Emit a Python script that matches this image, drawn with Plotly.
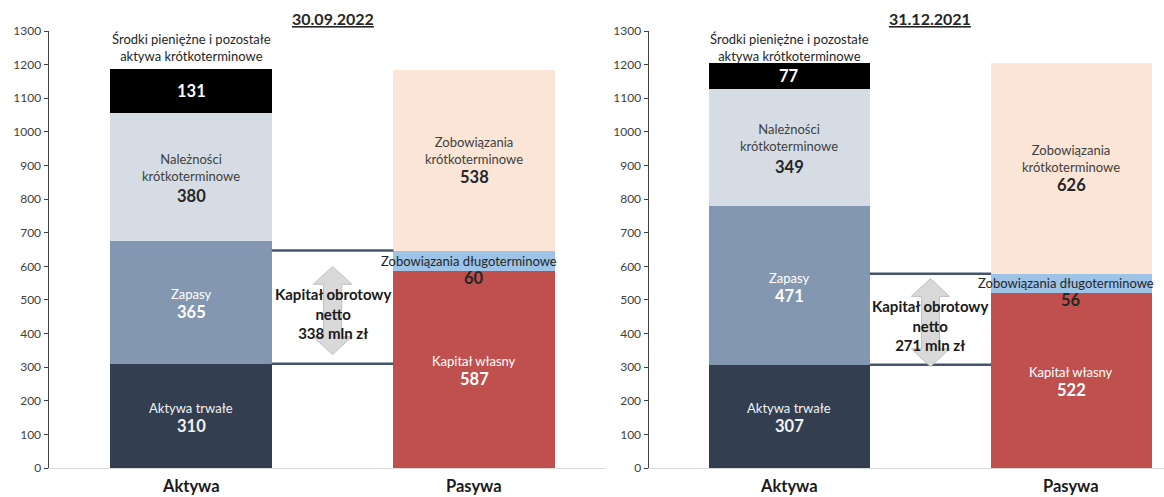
import plotly.graph_objects as go

# ---------------- data ----------------
dates = ["30.09.2022", "31.12.2021"]
categories = ["Aktywa", "Pasywa"]

asset_names = ["Aktywa trwałe", "Zapasy", "Należności<br>krótkoterminowe",
               "Środki pieniężne i pozostałe<br>aktywa krótkoterminowe"]
assets_2022 = [310, 365, 380, 131]
assets_2021 = [307, 471, 349, 77]

liab_names = ["Kapitał własny", "Zobowiązania długoterminowe",
              "Zobowiązania<br>krótkoterminowe"]
liab_2022 = [587, 60, 538]
liab_2021 = [522, 56, 626]

nwc_values = [338, 271]
y_ticks = list(range(0, 1400, 100))

# ---------------- styles ----------------
FONT = "Lato"
NAME_SIZE = 13
VAL_SIZE = 16.5
asset_colors = ["#333F50", "#8497B0", "#D6DCE4", "#000000"]
liab_colors = ["#C0504D", "#9DC3E6", "#FBE5D6"]
asset_txt = ["#F2F2F2", "#FFFFFF", "#404040", "#FFFFFF"]
asset_val = ["#F2F2F2", "#FFFFFF", "#262626", "#FFFFFF"]
liab_txt = ["#FFFFFF", "#262626", "#404040"]
liab_val = ["#FFFFFF", "#262626", "#262626"]
BAR_W = 0.57

panels = [
    dict(assets=assets_2022, liabs=liab_2022, nwc=nwc_values[0], date=dates[0],
         xa="x", ya="y", dom=[49 / 1164, 606 / 1164], rng=[-0.502, 1.466]),
    dict(assets=assets_2021, liabs=liab_2021, nwc=nwc_values[1], date=dates[1],
         xa="x2", ya="y2", dom=[649 / 1164, 1.0], rng=[-0.498, 1.328]),
]

fig = go.Figure()
annotations = []
shapes = []

for p in panels:
    xa, ya = p["xa"], p["ya"]
    for i, v in enumerate(p["assets"]):
        fig.add_trace(go.Bar(x=[0], y=[v], width=BAR_W, marker=dict(color=asset_colors[i], line=dict(width=0)),
                             xaxis=xa, yaxis=ya, showlegend=False, hoverinfo="skip"))
    for i, v in enumerate(p["liabs"]):
        fig.add_trace(go.Bar(x=[1], y=[v], width=BAR_W, marker=dict(color=liab_colors[i], line=dict(width=0)),
                             xaxis=xa, yaxis=ya, showlegend=False, hoverinfo="skip"))

    # asset labels
    base = 0
    for i, v in enumerate(p["assets"]):
        mid = base + v / 2
        if i == 3:
            annotations.append(dict(x=0, y=mid, xref=xa, yref=ya, text=f"<b>{v}</b>", showarrow=False,
                                    font=dict(family=FONT, size=VAL_SIZE, color=asset_val[i]), yanchor="middle"))
            annotations.append(dict(x=0, y=1200, xref=xa, yref=ya, text=asset_names[i], showarrow=False,
                                    font=dict(family=FONT, size=NAME_SIZE, color="#262626"), yanchor="bottom",
                                    yshift=-1))
        else:
            two = "<br>" in asset_names[i]
            annotations.append(dict(x=0, y=mid, xref=xa, yref=ya, text=asset_names[i], showarrow=False,
                                    font=dict(family=FONT, size=NAME_SIZE, color=asset_txt[i]), yanchor="middle",
                                    yshift=10 if two else 8))
            annotations.append(dict(x=0, y=mid, xref=xa, yref=ya, text=f"<b>{v}</b>", showarrow=False,
                                    font=dict(family=FONT, size=VAL_SIZE, color=asset_val[i]), yanchor="middle",
                                    yshift=-19 if two else -10))
        base += v

    # liability labels
    base = 0
    for i, v in enumerate(p["liabs"]):
        mid = base + v / 2
        if i == 1:
            annotations.append(dict(x=1, y=mid, xref=xa, yref=ya, text=liab_names[i], showarrow=False,
                                    font=dict(family=FONT, size=NAME_SIZE, color=liab_txt[i]), yanchor="middle",
                                    yshift=0, xshift=-5))
            annotations.append(dict(x=1, y=mid, xref=xa, yref=ya, text=f"<b>{v}</b>", showarrow=False,
                                    font=dict(family=FONT, size=VAL_SIZE, color=liab_val[i]), yanchor="middle",
                                    yshift=-17))
        else:
            two = "<br>" in liab_names[i]
            annotations.append(dict(x=1, y=mid, xref=xa, yref=ya, text=liab_names[i], showarrow=False,
                                    font=dict(family=FONT, size=NAME_SIZE, color=liab_txt[i]), yanchor="middle",
                                    yshift=10 if two else 8))
            annotations.append(dict(x=1, y=mid, xref=xa, yref=ya, text=f"<b>{v}</b>", showarrow=False,
                                    font=dict(family=FONT, size=VAL_SIZE, color=liab_val[i]), yanchor="middle",
                                    yshift=-17 if two else -10))
        base += v

    # working-capital lines
    upper = p["liabs"][0] + p["liabs"][1]
    lower = p["assets"][0]
    for yy in (upper, lower):
        shapes.append(dict(type="line", xref=xa, yref=ya, x0=BAR_W / 2, x1=1 - BAR_W / 2, y0=yy, y1=yy,
                           line=dict(color="#44546A", width=2.5), layer="above"))

    # double arrow
    c = (upper + lower) / 2 - 10
    L = 131
    hh = 53
    hw = 0.068
    bw = 0.032
    path = (f"M 0.5,{c + L} L {0.5 + hw},{c + L - hh} L {0.5 + bw},{c + L - hh} "
            f"L {0.5 + bw},{c - L + hh} L {0.5 + hw},{c - L + hh} L 0.5,{c - L} "
            f"L {0.5 - hw},{c - L + hh} L {0.5 - bw},{c - L + hh} L {0.5 - bw},{c + L - hh} "
            f"L {0.5 - hw},{c + L - hh} Z")
    shapes.append(dict(type="path", xref=xa, yref=ya, path=path, fillcolor="#D9D9D9",
                       line=dict(color="#BFBFBF", width=1), layer="above"))

    annotations.append(dict(x=0.5, y=(upper + lower) / 2, xref=xa, yref=ya,
                            text=f"<b>Kapitał obrotowy<br>netto<br>{p['nwc']} mln zł</b>", showarrow=False,
                            font=dict(family=FONT, size=15, color="#1A1A1A"), yanchor="middle", yshift=-6))

    annotations.append(dict(x=0.5, y=1 - 18 / 497, xref=xa, yref="paper", text=f"<b><u>{p['date']}</u></b>",
                            showarrow=False, font=dict(family=FONT, size=16, color="#262626"), yanchor="middle"))
    for k, cat in enumerate(categories):
        annotations.append(dict(x=k, y=1 - 486 / 497, xref=xa, yref="paper", text=f"<b>{cat}</b>",
                                showarrow=False, font=dict(family=FONT, size=16.5, color="#1A1A1A"),
                                yanchor="middle"))

ydom = [1 - 468 / 497, 1 - 31 / 497]
axis_common_x = dict(showgrid=False, zeroline=False, showticklabels=False, ticks="", automargin=False,
                     showline=True, linecolor="#D9D9D9", linewidth=1)
axis_common_y = dict(range=[0, 1300], tickvals=y_ticks, showgrid=False, zeroline=False, automargin=False,
                     showline=True, linecolor="#404040", linewidth=1.5, ticks="outside", ticklen=4,
                     tickcolor="#404040", tickfont=dict(family=FONT, size=12, color="#404040"))

fig.update_layout(
    width=1164, height=497,
    margin=dict(l=0, r=0, t=0, b=0, autoexpand=False),
    paper_bgcolor="white", plot_bgcolor="white",
    barmode="stack", bargap=0,
    hovermode=False,
    xaxis=dict(domain=panels[0]["dom"], range=panels[0]["rng"], anchor="y", **axis_common_x),
    yaxis=dict(domain=ydom, anchor="x", **axis_common_y),
    xaxis2=dict(domain=panels[1]["dom"], range=panels[1]["rng"], anchor="y2", **axis_common_x),
    yaxis2=dict(domain=ydom, anchor="x2", **axis_common_y),
    annotations=annotations,
    shapes=shapes,
)

fig.write_html("out.html", config={"displayModeBar": False, "staticPlot": True},
               post_script="document.body.style.margin='0';document.body.style.overflow='hidden';")
